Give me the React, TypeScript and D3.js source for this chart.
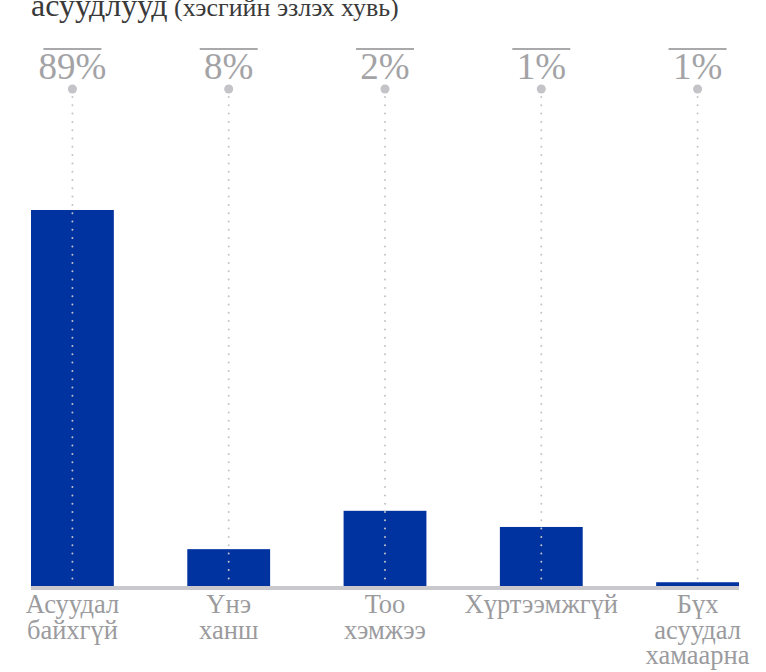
import React from "react";
import * as d3 from "d3";

const categories = ["cat1", "cat2", "cat3", "cat4", "cat5"];
const categoryLines = [
  ["Асуудал", "байхгүй"],
  ["Үнэ", "ханш"],
  ["Тоо", "хэмжээ"],
  ["Хүртээмжгүй"],
  ["Бүх", "асуудал", "хамаарна"],
];
const percentLabels = ["89%", "8%", "2%", "1%", "1%"];
const barValues = [100, 9.8, 20, 15.7, 1];
const titleMain = "асуудлууд";
const titleSub = " (хэсгийн эзлэх хувь)";

const W = 766;
const H = 672;
const baseY = 586;
const FONT = '"Liberation Serif"';

export default function App() {
  const x = d3
    .scaleBand<string>()
    .domain(categories)
    .range([31, 739])
    .paddingInner(0.47)
    .paddingOuter(0);
  const y = d3.scaleLinear().domain([0, 100]).range([baseY, 210]);
  const bw = x.bandwidth();

  return (
    <svg
      width={W}
      height={H}
      style={{ position: "absolute", left: 0, top: 0, background: "#fff" }}
    >
      <text x={31} y={16} fill="#3a3a3a" fontSize={32} style={{ fontFamily: FONT }}>
        {titleMain}
        <tspan fontSize={26}>{titleSub}</tspan>
      </text>
      {categories.map((c, i) => {
        const cx = (x(c) as number) + bw / 2;
        return (
          <g key={c}>
            <rect
              x={x(c)}
              y={y(barValues[i])}
              width={bw}
              height={baseY - y(barValues[i])}
              fill="#0033a0"
            />
            <line x1={cx - 29} x2={cx + 29} y1={49} y2={49} stroke="#a9a9ab" strokeWidth={2} />
            <text
              x={cx}
              y={79}
              textAnchor="middle"
              fill="#a3a3a6"
              fontSize={37}
              style={{ fontFamily: FONT }}
            >
              {percentLabels[i]}
            </text>
            <line
              x1={cx}
              x2={cx}
              y1={97}
              y2={baseY}
              stroke="#c3c3c8"
              strokeWidth={2}
              strokeDasharray="0 8.3"
              strokeLinecap="round"
            />
            <circle cx={cx} cy={89} r={4.5} fill="#c3c3c8" />
            {categoryLines[i].map((t, j) => (
              <text
                key={j}
                x={cx}
                y={613 + j * 25.5}
                textAnchor="middle"
                fill="#9b9b9e"
                fontSize={26.5}
                style={{ fontFamily: FONT }}
              >
                {t}
              </text>
            ))}
          </g>
        );
      })}
      <rect x={31} y={baseY} width={708} height={4} fill="#c9c9cd" />
    </svg>
  );
}
